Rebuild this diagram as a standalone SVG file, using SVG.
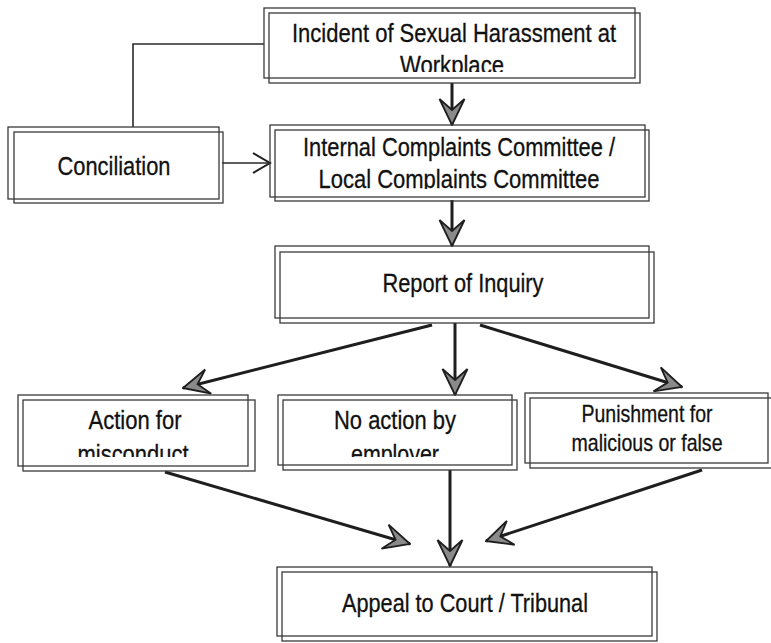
<svg xmlns="http://www.w3.org/2000/svg" width="771" height="643" viewBox="0 0 771 643">
<style>
  .box { fill: none; stroke: #3a3a3a; stroke-width: 1.3; }
  .t { font-family: "Liberation Sans", Arial, sans-serif; font-size: 26px; fill: #111; stroke: #111; stroke-width: 0.3; text-anchor: middle; }
  .ts { font-size: 24px; }
  .conn { fill: none; stroke: #1e1e1e; stroke-width: 3; }
  .thin { fill: none; stroke: #2a2a2a; stroke-width: 1.6; }
</style>
<defs>
  <marker id="stealth" markerUnits="userSpaceOnUse" viewBox="0 0 28 28" markerWidth="28" markerHeight="28" refX="27" refY="14" orient="auto">
    <path d="M27,14 L1,1.5 L12,14 L1,26.5 Z" fill="#8a8a8a" stroke="#1e1e1e" stroke-width="1.8" stroke-linejoin="miter"/>
  </marker>
  <marker id="open" markerUnits="userSpaceOnUse" viewBox="0 0 20 22" markerWidth="20" markerHeight="22" refX="18" refY="11" orient="auto">
    <path d="M1,1 L18,11 L1,21" fill="none" stroke="#1e1e1e" stroke-width="2"/>
  </marker>
  <clipPath id="clipIncident"><rect x="260" y="0" width="390" height="72"/></clipPath>
  <clipPath id="clipInternal"><rect x="265" y="120" width="390" height="69"/></clipPath>
  <clipPath id="clipRow"><rect x="0" y="390" width="771" height="67"/></clipPath>
</defs>
<rect width="771" height="643" fill="#ffffff"/>

<g id="connectors">
  <polyline class="thin" points="133,127 133,44 264,44"/>
  <line class="thin" x1="222" y1="163" x2="270" y2="163" marker-end="url(#open)"/>
  <line class="conn" x1="452" y1="83" x2="452" y2="125" marker-end="url(#stealth)"/>
  <line class="conn" x1="452" y1="200" x2="452" y2="246" marker-end="url(#stealth)"/>
  <line class="conn" x1="432" y1="325" x2="183" y2="388" marker-end="url(#stealth)"/>
  <line class="conn" x1="455" y1="323" x2="455" y2="395" marker-end="url(#stealth)"/>
  <line class="conn" x1="480" y1="325" x2="682" y2="387" marker-end="url(#stealth)"/>
  <line class="conn" x1="165" y1="472" x2="410" y2="544" marker-end="url(#stealth)"/>
  <line class="conn" x1="450" y1="470" x2="450" y2="566" marker-end="url(#stealth)"/>
  <line class="conn" x1="702" y1="470" x2="486" y2="541" marker-end="url(#stealth)"/>
</g>

<g id="incident">
  <rect class="box" x="264" y="8" width="371" height="70"/>
  <rect class="box" x="269" y="13" width="371" height="70"/>
  <g clip-path="url(#clipIncident)">
    <text class="t" x="454" y="42" textLength="324" lengthAdjust="spacingAndGlyphs">Incident of Sexual Harassment at</text>
    <text class="t" x="452" y="74" textLength="104" lengthAdjust="spacingAndGlyphs">Workplace</text>
  </g>
</g>

<g id="conciliation">
  <rect class="box" x="8" y="127" width="211" height="72"/>
  <rect class="box" x="14" y="132" width="209" height="71"/>
  <text class="t" x="114" y="175" textLength="113" lengthAdjust="spacingAndGlyphs">Conciliation</text>
</g>

<g id="internal">
  <rect class="box" x="270" y="125" width="375" height="72"/>
  <rect class="box" x="275" y="130" width="374" height="71"/>
  <g clip-path="url(#clipInternal)">
    <text class="t" x="459" y="156" textLength="312" lengthAdjust="spacingAndGlyphs">Internal Complaints Committee /</text>
    <text class="t" x="459" y="188" textLength="281" lengthAdjust="spacingAndGlyphs">Local Complaints Committee</text>
  </g>
</g>

<g id="report">
  <rect class="box" x="275" y="246" width="374" height="72"/>
  <rect class="box" x="280" y="252" width="374" height="71"/>
  <text class="t" x="463" y="292" textLength="161" lengthAdjust="spacingAndGlyphs">Report of Inquiry</text>
</g>

<g id="action">
  <rect class="box" x="18" y="395" width="230" height="71"/>
  <rect class="box" x="23" y="400" width="232" height="71"/>
  <g clip-path="url(#clipRow)">
    <text class="t" x="135" y="429" textLength="93" lengthAdjust="spacingAndGlyphs">Action for</text>
    <text class="t" x="133" y="463" textLength="111" lengthAdjust="spacingAndGlyphs">misconduct</text>
  </g>
</g>

<g id="noaction">
  <rect class="box" x="278" y="395" width="234" height="70"/>
  <rect class="box" x="283" y="400" width="234" height="70"/>
  <g clip-path="url(#clipRow)">
    <text class="t" x="395" y="429" textLength="122" lengthAdjust="spacingAndGlyphs">No action by</text>
    <text class="t" x="395" y="463" textLength="88" lengthAdjust="spacingAndGlyphs">employer</text>
  </g>
</g>

<g id="punishment">
  <rect class="box" x="525" y="393" width="243" height="70"/>
  <rect class="box" x="530" y="398" width="243" height="70"/>
  <text class="t ts" x="647" y="422" textLength="131" lengthAdjust="spacingAndGlyphs">Punishment for</text>
  <text class="t ts" x="647" y="451" textLength="151" lengthAdjust="spacingAndGlyphs">malicious or false</text>
</g>

<g id="appeal">
  <rect class="box" x="277" y="567" width="375" height="69"/>
  <rect class="box" x="282" y="572" width="375" height="69"/>
  <text class="t" x="465" y="612" textLength="246" lengthAdjust="spacingAndGlyphs">Appeal to Court / Tribunal</text>
</g>
</svg>
